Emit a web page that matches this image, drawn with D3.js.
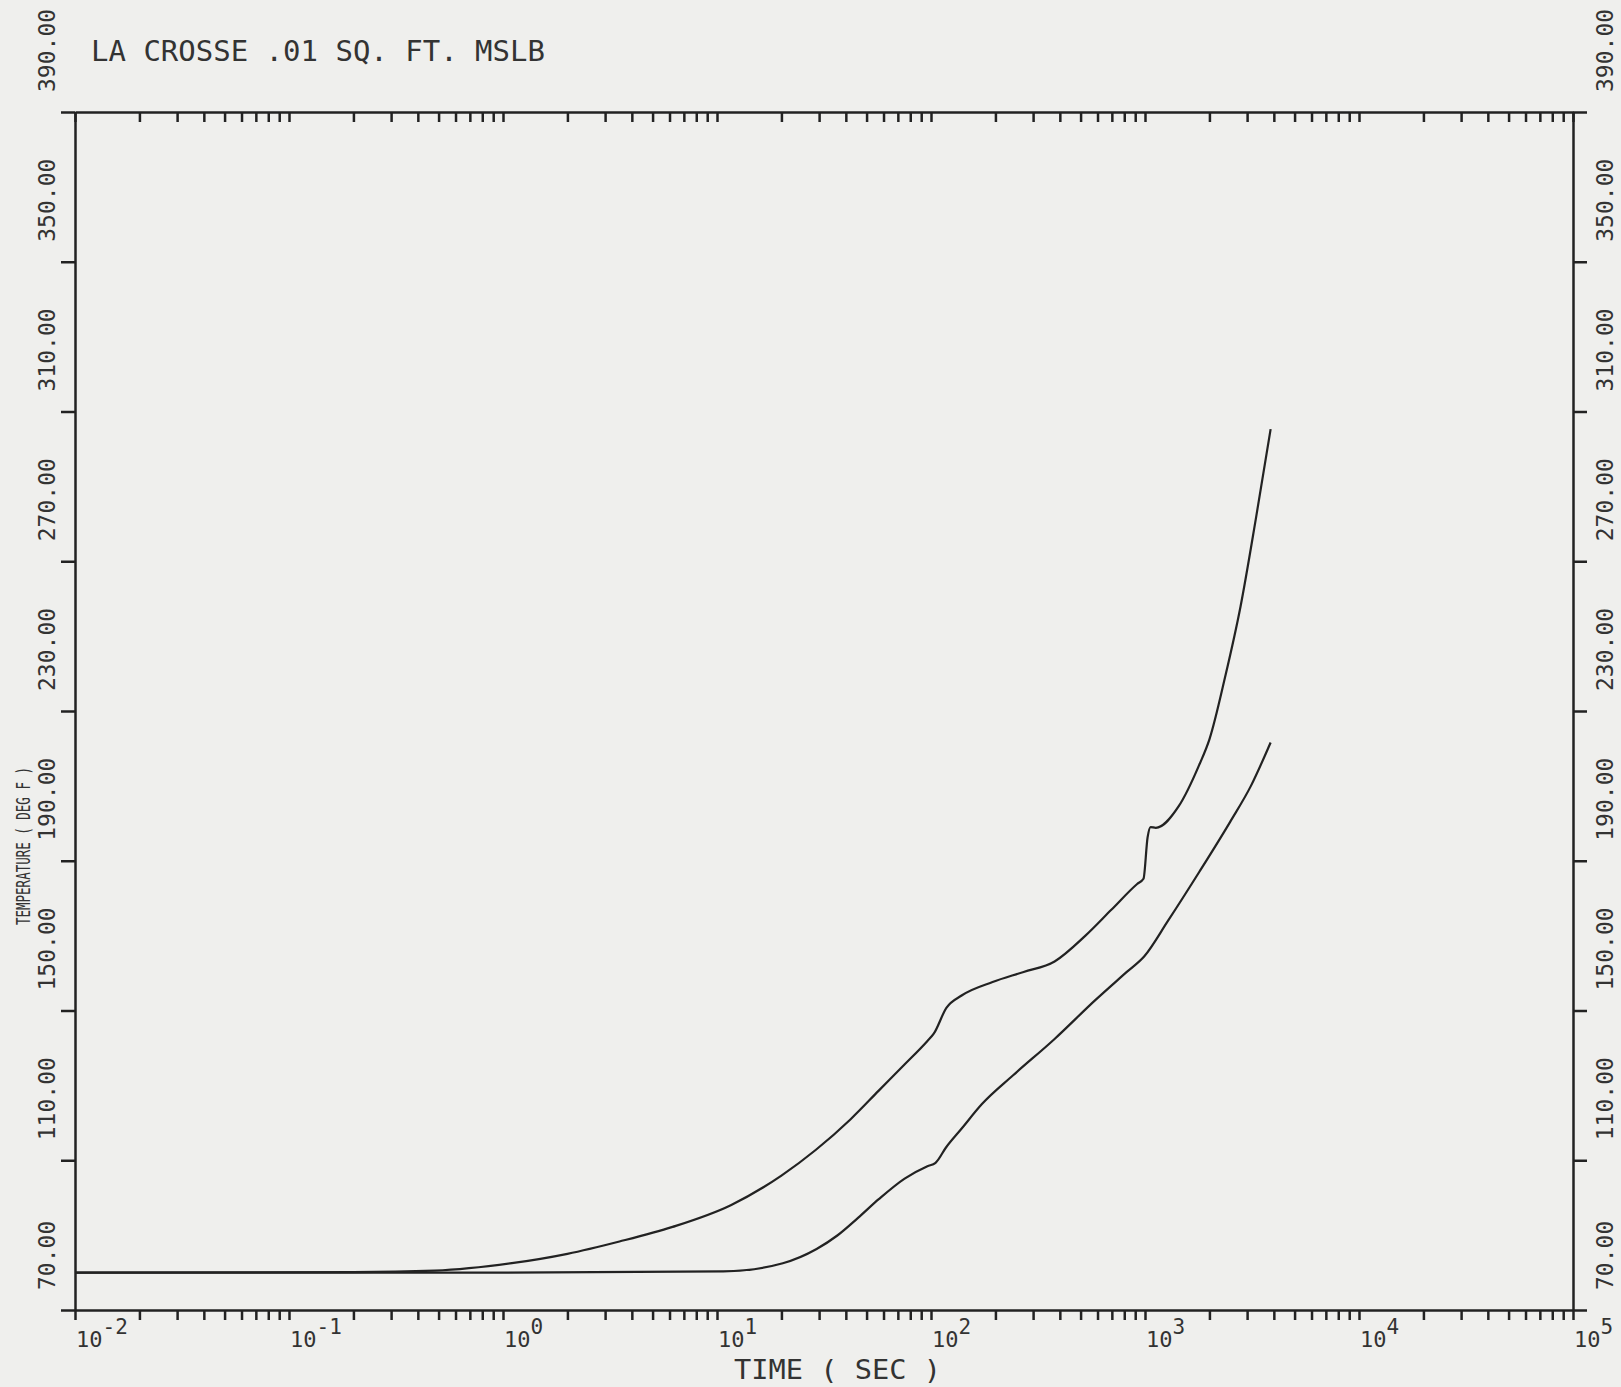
<!DOCTYPE html>
<html>
<head>
<meta charset="utf-8">
<script src="https://cdn.jsdelivr.net/npm/d3@7"></script>
<style>
  body { margin: 0; background: #efefed; }
  svg { display: block; }
  text { font-family: "DejaVu Sans Mono", monospace; fill: #333; }
</style>
</head>
<body>
<div id="chart"></div>
<script>
var svgWidth = 1621;
var svgHeight = 1387;

// upper curve
var upperTime = [0.01, 0.2, 0.48, 1.1, 2.0, 3.5, 6.2, 11.6, 20, 29, 42, 57, 75, 96, 103, 118, 139, 194, 271, 378, 527, 696, 919, 984, 1028, 1062, 1123, 1435, 1792, 2002, 2366, 2797, 3306, 3864];
var upperTemp = [80, 80.1, 80.5, 82.5, 85, 88.3, 92.2, 98.0, 105.9, 112.8, 120.9, 128.6, 135.5, 141.8, 143.8, 150.7, 154, 157.6, 160.3, 163.1, 170, 176.9, 183.8, 185.2, 196.2, 199, 198.8, 204.5, 215.6, 222.5, 239, 258, 281.8, 305.3];

// lower curve
var lowerTime = [0.01, 1, 10.7, 20.3, 29.2, 36.5, 45.6, 57, 75.3, 96.2, 105, 117.5, 138.8, 173, 242, 378, 589, 822, 993, 1282, 1792, 2500, 3126, 3864];
var lowerTemp = [80, 80, 80.3, 82.5, 86.3, 89.9, 94.6, 99.6, 105.1, 108.4, 109.3, 113.4, 118.4, 125, 132.7, 142.4, 152.9, 160.3, 164.5, 174, 187, 200.4, 210, 221.6];

var xDecades = [-2, -1, 0, 1, 2, 3, 4, 5];
var yTicks = [70, 110, 150, 190, 230, 270, 310, 350, 390];

var plot = { left: 75, right: 1573, top: 112, bottom: 1310 };

var svg = d3.select("#chart")
    .append("svg")
    .attr("width", svgWidth)
    .attr("height", svgHeight);

var xScale = d3.scaleLog()
    .domain([1e-2, 1e5])
    .range([plot.left, plot.right]);

var yScale = d3.scaleLinear()
    .domain([70, 390])
    .range([plot.bottom, plot.top]);

// minor + major tick positions along the log axis
var xTickVals = [];
xDecades.forEach(function (d) {
    if (d === 5) { xTickVals.push(1e5); return; }
    for (var k = 1; k <= 9; k++) xTickVals.push(k * Math.pow(10, d));
});

function styleAxis(g) {
    g.select(".domain").attr("stroke", "#222").attr("stroke-width", 2.5);
    g.selectAll(".tick line").attr("stroke", "#222").attr("stroke-width", 2.5);
}

// bottom axis, ticks hang below
svg.append("g")
    .attr("transform", `translate(0, ${plot.bottom})`)
    .call(d3.axisBottom(xScale).tickValues(xTickVals).tickSize(10).tickSizeOuter(0).tickFormat(""))
    .call(styleAxis);

// top axis, ticks hang down into the plot
svg.append("g")
    .attr("transform", `translate(0, ${plot.top})`)
    .call(d3.axisBottom(xScale).tickValues(xTickVals).tickSize(10).tickSizeOuter(0).tickFormat(""))
    .call(styleAxis);

svg.append("g")
    .attr("transform", `translate(${plot.left}, 0)`)
    .call(d3.axisLeft(yScale).tickValues(yTicks).tickSize(14).tickSizeOuter(0).tickFormat(""))
    .call(styleAxis);

svg.append("g")
    .attr("transform", `translate(${plot.right}, 0)`)
    .call(d3.axisRight(yScale).tickValues(yTicks).tickSize(14).tickSizeOuter(0).tickFormat(""))
    .call(styleAxis);

// rotated y tick labels on both sides
[55, 1613].forEach(function (bx) {
    svg.append("g")
        .selectAll("text")
        .data(yTicks)
        .enter()
        .append("text")
        .attr("transform", d => `translate(${bx}, ${yScale(d) - 20}) rotate(-90)`)
        .attr("font-size", "23px")
        .text(d => d.toFixed(2));
});

// x tick labels 10^n
var xl = svg.append("g")
    .selectAll("text")
    .data(xDecades)
    .enter()
    .append("text")
    .attr("x", d => xScale(Math.pow(10, d)) + 1)
    .attr("y", 1347)
    .attr("font-size", "22px");
xl.append("tspan").text("10");
xl.append("tspan").attr("dy", -13).attr("font-size", "21px").text(d => d);

// curves
var line = d3.line()
    .x(d => xScale(d[0]))
    .y(d => yScale(d[1]))
    .curve(d3.curveMonotoneX);

[[upperTime, upperTemp], [lowerTime, lowerTemp]].forEach(function (s) {
    svg.append("path")
        .datum(s[0].map((t, i) => [t, s[1][i]]))
        .attr("fill", "none")
        .attr("stroke", "#222")
        .attr("stroke-width", 2.2)
        .attr("d", line);
});

// titles
svg.append("text")
    .attr("x", 91)
    .attr("y", 61)
    .attr("font-size", "29px")
    .text("LA CROSSE .01 SQ. FT. MSLB");

svg.append("text")
    .attr("x", 734)
    .attr("y", 1379)
    .attr("font-size", "27px")
    .attr("textLength", 207)
    .attr("lengthAdjust", "spacingAndGlyphs")
    .text("TIME ( SEC )");

svg.append("text")
    .attr("transform", "translate(30, 925) rotate(-90)")
    .attr("font-size", "20px")
    .attr("textLength", 158)
    .attr("lengthAdjust", "spacingAndGlyphs")
    .text("TEMPERATURE ( DEG F )");
</script>
</body>
</html>
